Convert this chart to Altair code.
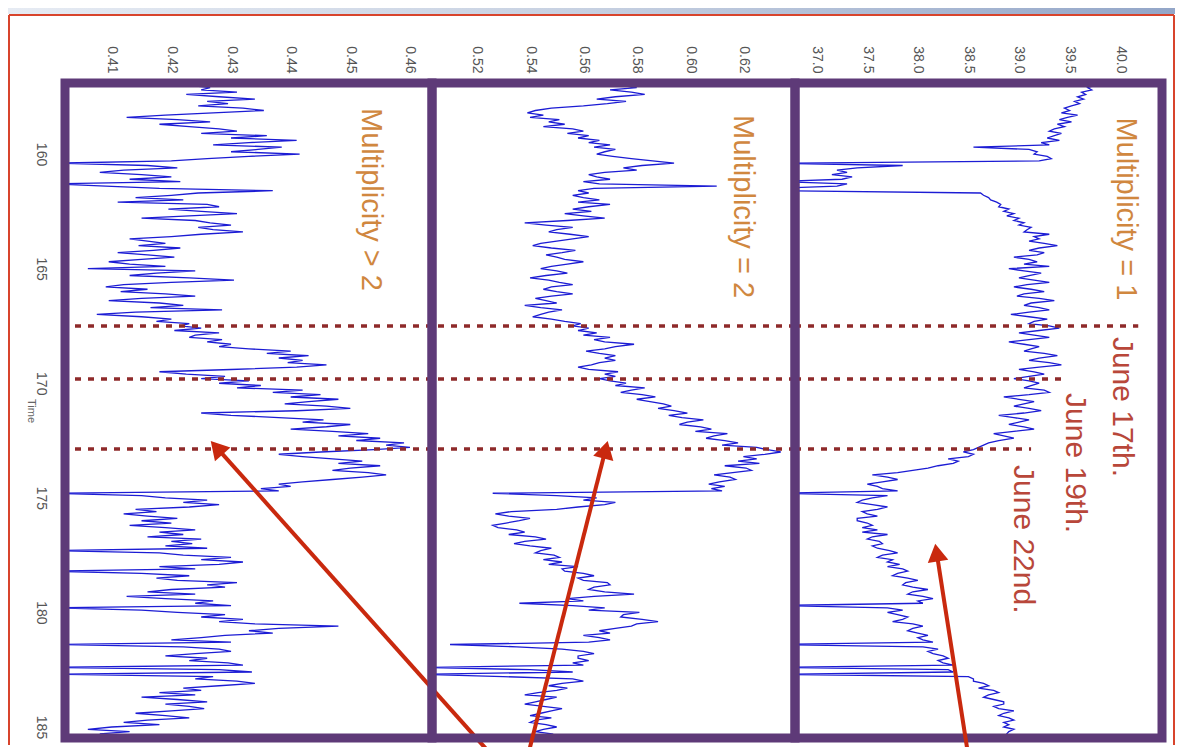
import altair as alt
import pandas as pd

# ---------------- data ----------------
T_START = 157.0
T_STEP = 0.1

mult_gt2 = [
    0.4230, 0.4265, 0.4250, 0.4310, 0.4225, 0.4280, 0.4340, 0.4260, 0.4295, 0.4245,
    0.4320, 0.4355, 0.4270, 0.4190, 0.4125, 0.4210, 0.4265, 0.4180, 0.4230, 0.4280,
    0.4310, 0.4250, 0.4360, 0.4300, 0.4410, 0.4330, 0.4270, 0.4385, 0.4345, 0.4300,
    0.4415, 0.4330, 0.4260, 0.4200, 0.4005, 0.4160, 0.4210, 0.4120, 0.4080, 0.4150,
    0.4200, 0.4130, 0.4215, 0.4000, 0.4090, 0.4180, 0.4370, 0.4245, 0.4200, 0.4140,
    0.4220, 0.4110, 0.4260, 0.4280, 0.4195, 0.4250, 0.4310, 0.4230, 0.4150, 0.4240,
    0.4265, 0.4300, 0.4245, 0.4270, 0.4320, 0.4250, 0.4200, 0.4130, 0.4160, 0.4190,
    0.4145, 0.4215, 0.4170, 0.4110, 0.4160, 0.4205, 0.4150, 0.4095, 0.4130, 0.4190,
    0.4060, 0.4240, 0.4175, 0.4130, 0.4230, 0.4305, 0.4200, 0.4120, 0.4090, 0.4160,
    0.4115, 0.4190, 0.4240, 0.4150, 0.4095, 0.4180, 0.4220, 0.4165, 0.4285, 0.4140,
    0.4075, 0.4150, 0.4200, 0.4175, 0.4230, 0.4215, 0.4250, 0.4205, 0.4280, 0.4240,
    0.4230, 0.4285, 0.4260, 0.4300, 0.4280, 0.4330, 0.4400, 0.4360, 0.4430, 0.4380,
    0.4420, 0.4395, 0.4460, 0.4410, 0.4300, 0.4180, 0.4225, 0.4290, 0.4250, 0.4330,
    0.4280, 0.4350, 0.4310, 0.4420, 0.4370, 0.4450, 0.4400, 0.4480, 0.4430, 0.4390,
    0.4460, 0.4500, 0.4410, 0.4250, 0.4300, 0.4380, 0.4455, 0.4420, 0.4500, 0.4460,
    0.4400, 0.4470, 0.4530, 0.4480, 0.4550, 0.4510, 0.4590, 0.4560, 0.4600, 0.4540,
    0.4450, 0.4380, 0.4420, 0.4470, 0.4520, 0.4480, 0.4550, 0.4500, 0.4470, 0.4530,
    0.4560, 0.4520, 0.4470, 0.4420, 0.4380, 0.4400, 0.4350, 0.4380, 0.4000, 0.4150,
    0.4190, 0.4260, 0.4220, 0.4280, 0.4230, 0.4140, 0.4175, 0.4120, 0.4160, 0.4210,
    0.4150, 0.4200, 0.4130, 0.4190, 0.4240, 0.4180, 0.4220, 0.4160, 0.4250, 0.4200,
    0.4235, 0.4190, 0.4260, 0.4000, 0.4180, 0.4220, 0.4300, 0.4250, 0.4320, 0.4280,
    0.4180, 0.4240, 0.4000, 0.4150, 0.4230, 0.4175, 0.4210, 0.4310, 0.4260, 0.4290,
    0.4200, 0.4160, 0.4240, 0.4125, 0.4190, 0.4270, 0.4240, 0.4300, 0.4000, 0.4150,
    0.4210, 0.4290, 0.4250, 0.4320, 0.4280, 0.4340, 0.4480, 0.4380, 0.4330, 0.4370,
    0.4290, 0.4250, 0.4200, 0.4300, 0.4000, 0.4220, 0.4280, 0.4300, 0.4240, 0.4190,
    0.4260, 0.4230, 0.4295, 0.4320, 0.4000, 0.4280, 0.4335, 0.4000, 0.4270, 0.4240,
    0.4310, 0.4340, 0.4280, 0.4220, 0.4250, 0.4180, 0.4240, 0.4150, 0.4210, 0.4260,
    0.4190, 0.4230, 0.4255, 0.4200, 0.4140, 0.4190, 0.4230, 0.4160, 0.4120, 0.4180,
    0.4100, 0.4060, 0.4130, 0.4080, 0.4150, 0.4070,
]

mult_eq2 = [
    0.5740, 0.5800, 0.5700, 0.5780, 0.5830, 0.5720, 0.5650, 0.5760, 0.5690, 0.5600,
    0.5480, 0.5420, 0.5390, 0.5450, 0.5400, 0.5510, 0.5470, 0.5530, 0.5450, 0.5560,
    0.5600, 0.5540, 0.5620, 0.5580, 0.5660, 0.5620, 0.5700, 0.5640, 0.5720, 0.5680,
    0.5650, 0.5710, 0.5780, 0.5860, 0.5940, 0.5820, 0.5750, 0.5800, 0.5680, 0.5620,
    0.5650, 0.5700, 0.5600, 0.5660, 0.6100, 0.5640, 0.5580, 0.5620, 0.5560, 0.5600,
    0.5660, 0.5580, 0.5700, 0.5620, 0.5560, 0.5630, 0.5530, 0.5600, 0.5680, 0.5540,
    0.5380, 0.5460, 0.5560, 0.5500, 0.5470, 0.5550, 0.5620, 0.5560, 0.5500, 0.5440,
    0.5410, 0.5480, 0.5570, 0.5520, 0.5460, 0.5500, 0.5530, 0.5600, 0.5540, 0.5480,
    0.5440, 0.5500, 0.5540, 0.5460, 0.5400, 0.5470, 0.5510, 0.5560, 0.5480, 0.5450,
    0.5500, 0.5560, 0.5480, 0.5420, 0.5460, 0.5500, 0.5380, 0.5440, 0.5520, 0.5470,
    0.5440, 0.5410, 0.5480, 0.5530, 0.5590, 0.5560, 0.5620, 0.5580, 0.5650, 0.5600,
    0.5700, 0.5640, 0.5680, 0.5790, 0.5720, 0.5680, 0.5610, 0.5660, 0.5720, 0.5680,
    0.5720, 0.5660, 0.5630, 0.5580, 0.5620, 0.5730, 0.5680, 0.5720, 0.5660, 0.5700,
    0.5760, 0.5720, 0.5830, 0.5780, 0.5740, 0.5820, 0.5870, 0.5800, 0.5850, 0.5900,
    0.5930, 0.5880, 0.5940, 0.5990, 0.5920, 0.5970, 0.6050, 0.5990, 0.5960, 0.6040,
    0.6080, 0.6020, 0.6140, 0.6090, 0.6060, 0.6130, 0.6180, 0.6120, 0.6250, 0.6290,
    0.6340, 0.6280, 0.6200, 0.6250, 0.6180, 0.6260, 0.6130, 0.6210, 0.6230, 0.6160,
    0.6090, 0.6150, 0.6170, 0.6110, 0.6070, 0.6130, 0.6080, 0.6120, 0.5260, 0.5500,
    0.5650, 0.5600, 0.5720, 0.5680, 0.5580, 0.5500, 0.5330, 0.5270, 0.5320, 0.5400,
    0.5360, 0.5310, 0.5260, 0.5280, 0.5350, 0.5380, 0.5320, 0.5420, 0.5460, 0.5380,
    0.5340, 0.5400, 0.5480, 0.5440, 0.5420, 0.5490, 0.5510, 0.5450, 0.5520, 0.5470,
    0.5580, 0.5520, 0.5530, 0.5600, 0.5640, 0.5580, 0.5600, 0.5690, 0.5700, 0.5640,
    0.5620, 0.5680, 0.5790, 0.5640, 0.5540, 0.5600, 0.5360, 0.5560, 0.5680, 0.5620,
    0.5810, 0.5750, 0.5740, 0.5820, 0.5880, 0.5800, 0.5780, 0.5720, 0.5660, 0.5700,
    0.5600, 0.5660, 0.5700, 0.5620, 0.5100, 0.5350, 0.5520, 0.5600, 0.5640, 0.5580,
    0.5580, 0.5620, 0.5560, 0.5600, 0.5000, 0.5400, 0.5560, 0.5000, 0.5300, 0.5560,
    0.5600, 0.5520, 0.5470, 0.5540, 0.5500, 0.5430, 0.5380, 0.5500, 0.5460, 0.5420,
    0.5380, 0.5450, 0.5520, 0.5480, 0.5440, 0.5400, 0.5480, 0.5420, 0.5400, 0.5460,
    0.5500, 0.5450, 0.5420, 0.5480, 0.5460, 0.5500,
]

mult_eq1 = [
    39.75, 39.68, 39.72, 39.62, 39.66, 39.58, 39.64, 39.55, 39.60, 39.52,
    39.45, 39.50, 39.42, 39.58, 39.48, 39.40, 39.52, 39.38, 39.45, 39.35,
    39.30, 39.42, 39.35, 39.28, 39.40, 39.22, 39.30, 38.55, 39.10, 39.18,
    39.15, 39.28, 39.32, 39.20, 36.60, 37.85, 37.40, 37.20, 37.30, 37.15,
    37.35, 37.25, 36.60, 37.30, 37.20, 36.60, 36.60, 38.62, 38.65, 38.70,
    38.72, 38.78, 38.82, 38.80, 38.90, 38.85, 38.95, 38.88, 39.00, 38.95,
    39.05, 39.00, 39.12, 39.08, 39.05, 39.30, 39.15, 39.20, 39.10, 39.25,
    39.38, 39.20, 39.10, 39.25, 39.18, 38.95, 39.10, 39.18, 39.05, 39.30,
    38.90, 39.05, 39.22, 39.10, 39.00, 39.15, 39.30, 39.08, 38.95, 39.12,
    39.25, 39.05, 38.98, 39.20, 39.35, 39.12, 39.05, 39.20, 39.30, 39.10,
    38.92, 39.10, 39.28, 39.15, 39.10, 39.30, 39.40, 39.20, 39.00, 39.15,
    39.30, 39.10, 38.90, 39.05, 39.20, 39.12, 39.05, 39.25, 39.38, 39.20,
    39.10, 39.30, 39.42, 39.20, 39.00, 39.15, 39.25, 39.10, 38.95, 39.10,
    39.20, 39.12, 39.05, 39.25, 39.30, 39.10, 38.85, 39.00, 39.15, 39.05,
    38.95, 39.10, 39.22, 39.05, 38.80, 38.95, 39.10, 39.00, 38.90, 39.05,
    39.15, 38.95, 38.75, 38.85, 38.95, 38.80, 38.70, 38.65, 38.60, 38.55,
    38.45, 38.55, 38.50, 38.30, 38.40, 38.35, 38.20, 38.10, 37.95, 37.80,
    37.55, 37.70, 37.80, 37.65, 37.50, 37.60, 37.65, 37.80, 36.60, 37.70,
    37.55, 37.45, 37.40, 37.55, 37.70, 37.60, 37.45, 37.50, 37.60, 37.40,
    37.40, 37.50, 37.55, 37.45, 37.60, 37.45, 37.70, 37.55, 37.50, 37.62,
    37.65, 37.55, 37.60, 37.72, 37.80, 37.65, 37.60, 37.75, 37.70, 37.82,
    37.70, 37.85, 37.90, 37.80, 37.75, 37.90, 38.00, 37.88, 37.85, 37.95,
    38.10, 37.95, 37.90, 38.05, 38.15, 38.00, 38.05, 36.60, 37.70, 37.85,
    37.70, 37.80, 37.90, 37.85, 37.75, 37.95, 38.05, 37.95, 37.90, 38.00,
    38.10, 38.00, 38.05, 38.15, 36.60, 38.05, 38.20, 38.10, 38.15, 38.25,
    38.30, 38.20, 38.25, 38.35, 36.60, 38.30, 38.35, 36.60, 38.50, 38.55,
    38.55, 38.65, 38.70, 38.60, 38.75, 38.80, 38.70, 38.65, 38.75, 38.85,
    38.85, 38.75, 38.80, 38.95, 38.85, 38.80, 38.90, 38.95, 38.85, 38.90,
    38.85, 38.95, 38.90, 38.88, 38.92, 38.90,
]

time_ticks = [160, 165, 170, 175, 180, 185]
gt2_ticks = [0.41, 0.42, 0.43, 0.44, 0.45, 0.46]
eq2_ticks = [0.52, 0.54, 0.56, 0.58, 0.60, 0.62]
eq1_ticks = [37.0, 37.5, 38.0, 38.5, 39.0, 39.5, 40.0]

panel_titles = ["Multiplicity > 2", "Multiplicity = 2", "Multiplicity = 1"]
title_values = [0.4535, 0.6199, 40.06]
title_times = [157.99, 158.30, 158.40]

date_times = [167.50, 169.82, 172.87]
date_labels = ["June 17th.", "June 19th.", "June 22nd."]
date_label_values = [40.02, 39.555, 39.04]
date_label_times = [167.98, 170.43, 173.57]
date_line_ends = [40.18, 39.43, 39.12]

# arrows: tip (head centre) and tail, in each panel's data units
arrow_tip_v = [0.4276, 0.56829, 38.186]
arrow_tip_t = [172.81, 172.90, 177.39]
arrow_tail_v = [0.4729, 0.53972, 38.49]
arrow_tail_t = [186.0, 186.0, 186.0]
arrow_angles = [318.2, 14.2, 351.1]

# ---------------- style ----------------
FONT = "Liberation Sans"
BLUE = "#1C1CD4"
PURPLE = "#5E3A78"
DOT = "#8E2A2A"
ORANGE = "#D0873F"
DATE_RED = "#B8473A"
ARROW_RED = "#C9290E"
FRAME_RED = "#D8442C"

H = 655
WIDTHS = [367, 363, 367]
TIME_DOMAIN = [156.9, 185.48]
DOMAINS = [[0.40217, 0.46369], [0.50324, 0.63935], [36.785, 40.415]]
TICKS = [gt2_ticks, eq2_ticks, eq1_ticks]
FORMATS = [".2f", ".2f", ".1f"]
SERIES = [mult_gt2, mult_eq2, mult_eq1]

times = [round(T_START + T_STEP * i, 2) for i in range(len(mult_gt2))]


def x_axis(i):
    return alt.Axis(orient="top", values=TICKS[i], format=FORMATS[i],
                    labelAngle=90, labelAlign="right", labelBaseline="middle",
                    labelPadding=10, ticks=False, tickSize=0, domain=False,
                    grid=False, labelFontSize=14, labelColor="#555555",
                    labelFont=FONT, title=None)


def y_axis(i):
    if i != 0:
        return None
    return alt.Axis(values=time_ticks, format="d", labelAngle=90,
                    labelAlign="center", labelBaseline="top", labelPadding=18,
                    ticks=False, tickSize=0, domain=False, grid=False,
                    labelFontSize=14, labelColor="#555555", labelFont=FONT,
                    title="Time", titleFontSize=11, titleFontWeight="normal",
                    titleColor="#666666", titleFont=FONT, titleAngle=90,
                    titleAlign="center", titleBaseline="middle",
                    titleX=-35, titleY=H / 2)


def x_enc(i):
    return alt.X("v:Q", scale=alt.Scale(domain=DOMAINS[i], nice=False, zero=False),
                 axis=x_axis(i))


def y_enc(i):
    return alt.Y("t:Q", scale=alt.Scale(domain=TIME_DOMAIN, nice=False, zero=False,
                                        reverse=True),
                 axis=y_axis(i))


def panel(i):
    w = WIDTHS[i]
    df = pd.DataFrame({"t": times, "v": SERIES[i]})
    line = alt.Chart(df).mark_line(color=BLUE, strokeWidth=1.3, clip=True).encode(
        x=x_enc(i), y=y_enc(i), order=alt.Order("t:Q"))

    if i < 2:
        rules = alt.Chart(pd.DataFrame({"t": date_times})).mark_rule(
            color=DOT, strokeWidth=3.5, strokeDash=[6, 7]).encode(y=y_enc(i))
    else:
        rules = alt.Chart(pd.DataFrame({
            "t": date_times, "v": [DOMAINS[2][0]] * 3, "v2": date_line_ends
        })).mark_rule(color=DOT, strokeWidth=3.5, strokeDash=[6, 7]).encode(
            x=x_enc(i), x2="v2:Q", y=y_enc(i))

    one = pd.DataFrame({"k": [0]})
    border = alt.Chart(one).mark_rect(filled=False, stroke=PURPLE, strokeWidth=9).encode(
        x=alt.value(0), x2=alt.value(w), y=alt.value(0), y2=alt.value(H))

    title = alt.Chart(pd.DataFrame({
        "t": [title_times[i]], "v": [title_values[i]], "txt": [panel_titles[i]]
    })).mark_text(angle=90, align="left", baseline="middle", fontSize=29,
                  font=FONT, color=ORANGE).encode(
        x=x_enc(i), y=y_enc(i), text="txt:N")

    adf = pd.DataFrame({"v": [arrow_tail_v[i]], "t": [arrow_tail_t[i]],
                        "v2": [arrow_tip_v[i]], "t2": [arrow_tip_t[i]]})
    arrow_line = alt.Chart(adf).mark_rule(color=ARROW_RED, strokeWidth=4).encode(
        x=x_enc(i), y=y_enc(i), x2="v2:Q", y2="t2:Q")
    hdf = pd.DataFrame({"v": [arrow_tip_v[i]], "t": [arrow_tip_t[i]]})
    arrow_head = alt.Chart(hdf).mark_point(
        shape="triangle-up", filled=True, size=430, angle=arrow_angles[i],
        color=ARROW_RED, opacity=1, strokeWidth=0).encode(x=x_enc(i), y=y_enc(i))

    layers = [line, rules, border, title, arrow_line, arrow_head]

    if i == 2:
        ddf = pd.DataFrame({"t": date_label_times, "v": date_label_values,
                            "txt": date_labels})
        dates = alt.Chart(ddf).mark_text(angle=90, align="left", baseline="middle",
                                         fontSize=30, font=FONT, color=DATE_RED).encode(
            x=x_enc(i), y=y_enc(i), text="txt:N")
        layers.insert(4, dates)

    if i == 0:
        grad = alt.LinearGradient(
            gradient="linear", x1=0, x2=1, y1=0, y2=0,
            stops=[alt.GradientStop(offset=0, color="#E6EBF3"),
                   alt.GradientStop(offset=0.5, color="#C6D0E1"),
                   alt.GradientStop(offset=1, color="#93A6C8")])
        header = alt.Chart(one).mark_rect(color=grad).encode(
            x=alt.value(-57), x2=alt.value(1110), y=alt.value(-75), y2=alt.value(-69))
        frame_top = alt.Chart(one).mark_rule(color=FRAME_RED, strokeWidth=2).encode(
            x=alt.value(-56), x2=alt.value(1109), y=alt.value(-68))
        frame_left = alt.Chart(one).mark_rule(color=FRAME_RED, strokeWidth=2).encode(
            x=alt.value(-56), y=alt.value(-68), y2=alt.value(662))
        frame_right = alt.Chart(one).mark_rule(color=FRAME_RED, strokeWidth=2).encode(
            x=alt.value(1109), y=alt.value(-68), y2=alt.value(662))
        layers = [header, frame_top, frame_left, frame_right] + layers

    return alt.layer(*layers).properties(width=w, height=H)


chart = alt.hconcat(panel(0), panel(1), panel(2), spacing=0, bounds="flush").properties(
    padding=0
).configure_view(strokeWidth=0)

chart.save("out.html", embed_options={"renderer": "svg", "actions": False})
